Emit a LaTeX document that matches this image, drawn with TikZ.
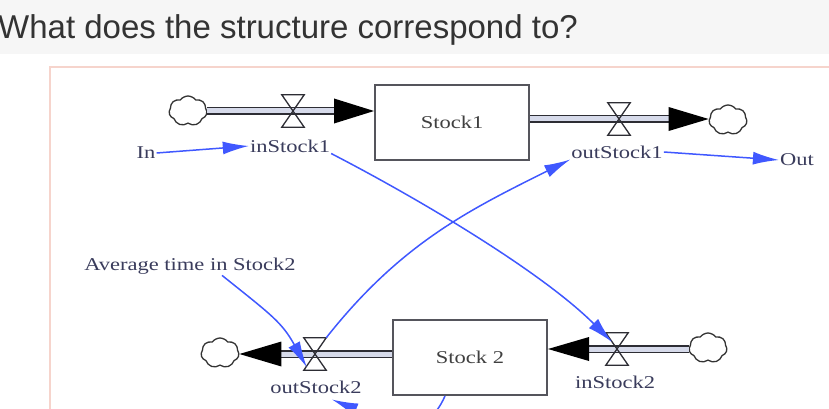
\documentclass[tikz,border=0pt]{standalone}
\usepackage{fontspec}
\setmainfont{Liberation Serif}
\newfontfamily\labelfont[FakeStretch=1.25]{Liberation Serif}
\newfontfamily\titlefont{Liberation Sans}
\usetikzlibrary{arrows.meta,shapes.symbols,calc}

\definecolor{linkblue}{RGB}{64,88,255}
\definecolor{labelink}{RGB}{58,60,92}
\definecolor{pipeink}{RGB}{45,45,52}
\definecolor{pipecore}{RGB}{214,218,234}
\definecolor{boxink}{RGB}{85,85,92}
\definecolor{framepink}{RGB}{246,212,204}
\definecolor{bandgrey}{RGB}{246,246,246}

\begin{document}
\begin{tikzpicture}[x=1pt,y=-1pt,
  stockbox/.style={draw=boxink, line width=2pt, fill=white,
    minimum width=154pt, minimum height=75pt, inner sep=0pt,
    font=\labelfont\fontsize{18pt}{20pt}\selectfont, text=black!75},
  varlabel/.style={inner sep=1pt, text=labelink,
    font=\labelfont\fontsize{18pt}{20pt}\selectfont},
  sink/.style={cloud, cloud puffs=7, cloud puff arc=110, cloud ignores aspect,
    minimum width=38pt, minimum height=30pt, inner sep=0pt,
    draw=black!80, line width=1.3pt, fill=white},
  valve/.style={minimum width=22pt, minimum height=32pt, inner sep=0pt},
  valveline/.style={draw=pipeink, line width=1.3pt, line join=miter},
  pipe/.style={draw=pipeink, line width=1.4pt, double=pipecore, double distance=5pt},
  flowhead/.style={fill=black},
  link/.style={draw=linkblue, line width=1.5pt, -{Latex[length=26pt,width=13pt]}}
]
\clip (0,0) rectangle (829,409);
% page background and question band
\fill[white] (0,0) rectangle (829,409);
\fill[bandgrey] (0,0) rectangle (829,54);
\node[anchor=base east, inner sep=0pt, text=black!80,
  font=\titlefont\fontsize{33pt}{36pt}\selectfont] (question) at (578,39)
  {What does the structure correspond to?};

% model panel
\draw[framepink, line width=2pt] (50,67) rectangle (850,430);

% stocks
\node[stockbox] (s1) at (452,122.5) {Stock1};
\node[stockbox] (s2) at (470,357.5) {Stock 2};

% clouds (sources and sinks)
\node[sink] (c1) at (188,111) {};
\node[sink] (c2) at (728,120) {};
\node[sink] (c3) at (708,348) {};
\node[sink] (c4) at (220,353) {};

% valves
\node[valve] (v1) at (293,111) {};
\node[valve] (v2) at (619,119) {};
\node[valve] (v3) at (617,349) {};
\node[valve] (v4) at (315,354) {};

% pipes
\draw[pipe, shorten >=30pt] (c1.east |- v1) -- (s1.west |- v1);
\draw[pipe, shorten >=30pt] (s1.east |- v2) -- (c2.west |- v2);
\draw[pipe, shorten >=30pt] (c3.west |- v3) -- (s2.east |- v3);
\draw[pipe, shorten >=30pt] (s2.west |- v4) -- (c4.east |- v4);

% flow arrowheads
\fill[flowhead] (s1.west |- v1) -- ++(-40,-12.5) -- ++(0,25) -- cycle;
\fill[flowhead] (c2.west |- v2) -- ++(-40,-12) -- ++(0,24) -- cycle;
\fill[flowhead] (s2.east |- v3) -- ++(41,-12) -- ++(0,24) -- cycle;
\fill[flowhead] (c4.east |- v4) -- ++(42,-12.5) -- ++(0,25) -- cycle;

% valve hourglasses
\foreach \v in {v1,v2,v3,v4}
  \draw[valveline] (\v.north west) -- (\v.north east) -- (\v.south west)
    -- (\v.south east) -- cycle;

% variable names
\node[varlabel] (in) at (146,153) {In};
\node[varlabel] (l1) at (290,146) {inStock1};
\node[varlabel] (l2) at (617,152) {outStock1};
\node[varlabel] (out) at (797,160) {Out};
\node[varlabel] (l3) at (190,266) {Average time in Stock2};
\node[varlabel] (l4) at (316,387) {outStock2};
\node[varlabel] (l5) at (615,382) {inStock2};

% information links
\draw[link] (in.east) -- (l1.west);
\draw[link] (l2.east) -- (out.west);
\draw[link] (l1.south east) .. controls +(89,46) and +(-70,-70) .. ([shift={(-5,-7)}]v3.center);
\draw[link] (v4.north east) .. controls +(75,-95) and +(-100,50) .. (l2.south west);
\draw[link] ([xshift=32pt]l3.south) .. controls +(50,40) and +(-25,-45) .. ([shift={(3,-3)}]v4.south west);
\draw[link] ([xshift=-25pt]s2.south) .. controls +(-20,45) and +(60,25) .. ([shift={(16,5)}]l4.south);
\end{tikzpicture}
\end{document}
